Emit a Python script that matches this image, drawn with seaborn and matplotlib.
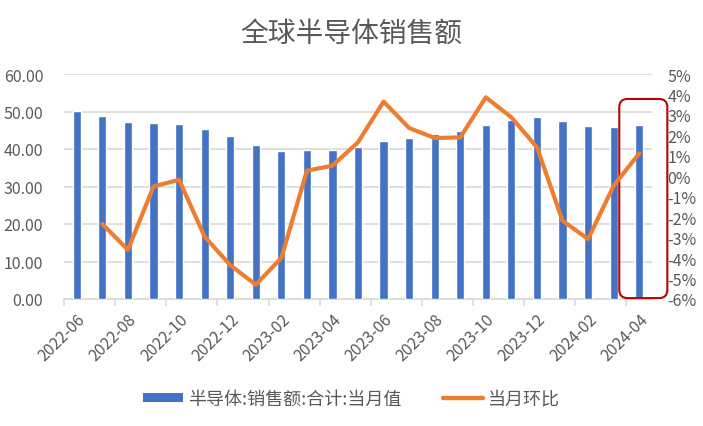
import matplotlib
matplotlib.use("Agg")
import matplotlib.pyplot as plt
from matplotlib.patches import FancyBboxPatch
from matplotlib.lines import Line2D
from matplotlib.patches import Patch
import numpy as np
import pandas as pd
import seaborn as sns

# monthly data, 2022-06 .. 2024-04
months = [
    "2022-06", "2022-07", "2022-08", "2022-09", "2022-10", "2022-11",
    "2022-12", "2023-01", "2023-02", "2023-03", "2023-04", "2023-05",
    "2023-06", "2023-07", "2023-08", "2023-09", "2023-10", "2023-11",
    "2023-12", "2024-01", "2024-02", "2024-03", "2024-04",
]
sales = [
    50.1, 48.8, 47.2, 46.9, 46.7, 45.3, 43.5, 41.1, 39.5, 39.8, 39.8, 40.5,
    42.1, 42.9, 44.0, 44.8, 46.4, 47.7, 48.5, 47.5, 46.2, 45.9, 46.4,
]
# month-on-month change (%), first month has no value
mom = [
    np.nan, -2.33, -3.6, -0.5, -0.17, -2.95, -4.34, -5.3, -4.0, 0.27, 0.52,
    1.66, 3.65, 2.36, 1.87, 1.9, 3.86, 2.88, 1.42, -2.17, -3.07, -0.46, 1.12,
]

BAR_COLOR = "#4472C4"
LINE_COLOR = "#ED7D31"
TEXT_COLOR = "#595959"
GRID_COLOR = "#D9D9D9"


def main():
    sns.set_theme(style="white")
    plt.rcParams["font.family"] = ["Noto Sans CJK SC", "DejaVu Sans"]

    df = pd.DataFrame({"month": months, "sales": sales, "mom": mom})
    df["pos"] = np.arange(len(df))

    fig = plt.figure(figsize=(7.03, 4.27), dpi=100)
    ax = fig.add_axes([64 / 703, 1 - 300 / 427, 588 / 703, 225 / 427])

    sns.barplot(data=df, x="month", y="sales", color=BAR_COLOR,
                width=0.32, saturation=1, ax=ax, zorder=3)
    ax.set_xlim(-0.5, len(df) - 0.5)
    ax.set_ylim(0, 60)
    ax.set_yticks(np.arange(0, 61, 10))
    ax.set_yticklabels([f"{v:.2f}" for v in np.arange(0, 61, 10)])
    ax.yaxis.grid(True, color=GRID_COLOR, linewidth=1.2, zorder=0)
    ax.set_xlabel("")
    ax.set_ylabel("")
    for s in ["top", "right", "left"]:
        ax.spines[s].set_visible(False)
    ax.spines["bottom"].set_color(GRID_COLOR)
    ax.spines["bottom"].set_linewidth(1.2)

    # labels every two months, tick marks at category boundaries
    ax.set_xticks(df["pos"][::2])
    ax.set_xticklabels(df["month"][::2], rotation=45, ha="right",
                       rotation_mode="anchor")
    ax.set_xticks(df["pos"][::2] - 0.5, minor=True)
    ax.tick_params(axis="x", which="major", length=0, pad=8,
                   labelsize=11.5, labelcolor=TEXT_COLOR)
    ax.tick_params(axis="x", which="minor", length=5, width=1.2,
                   color=GRID_COLOR, direction="out", bottom=True)
    ax.tick_params(axis="y", length=0, labelsize=11.5, labelcolor=TEXT_COLOR,
                   pad=15)

    ax2 = ax.twinx()
    sns.lineplot(data=df, x="pos", y="mom", color=LINE_COLOR, linewidth=3,
                 ax=ax2, zorder=4)
    ax2.set_ylim(-6, 5)
    ax2.set_yticks(np.arange(-6, 6, 1))
    ax2.set_yticklabels([f"{v}%" for v in range(-6, 6)])
    ax2.tick_params(axis="y", length=0, labelsize=11.5, labelcolor=TEXT_COLOR,
                    pad=11)
    ax2.set_xlim(-0.5, len(df) - 0.5)
    ax2.set_xlabel("")
    ax2.set_ylabel("")
    for s in ax2.spines.values():
        s.set_visible(False)

    # red highlight box around the latest month
    last = df["pos"].iloc[-1]
    box = FancyBboxPatch((last - 0.78, 0.004), 1.88, 0.885,
                         boxstyle="round,pad=0,rounding_size=0.32",
                         transform=ax.get_xaxis_transform(),
                         fill=False, edgecolor="#C00000", linewidth=1.5,
                         zorder=6, clip_on=False, mutation_aspect=0.115)
    ax.add_patch(box)

    fig.text(0.5, 1 - 34 / 427, "全球半导体销售额", ha="center", va="center",
             fontsize=20, color=TEXT_COLOR)

    handles = [
        Patch(facecolor=BAR_COLOR, edgecolor="none"),
        Line2D([0], [0], color=LINE_COLOR, linewidth=3.2,
               solid_capstyle="round"),
    ]
    fig.legend(handles, ["半导体:销售额:合计:当月值", "当月环比"],
               loc="center", bbox_to_anchor=(0.5, 1 - 400 / 427), ncol=2,
               frameon=False, fontsize=13, labelcolor=TEXT_COLOR,
               handlelength=2.2, handleheight=0.45, columnspacing=2.3,
               handletextpad=0.3)

    fig.savefig("out.png", dpi=100)
    plt.close(fig)


if __name__ == "__main__":
    main()
